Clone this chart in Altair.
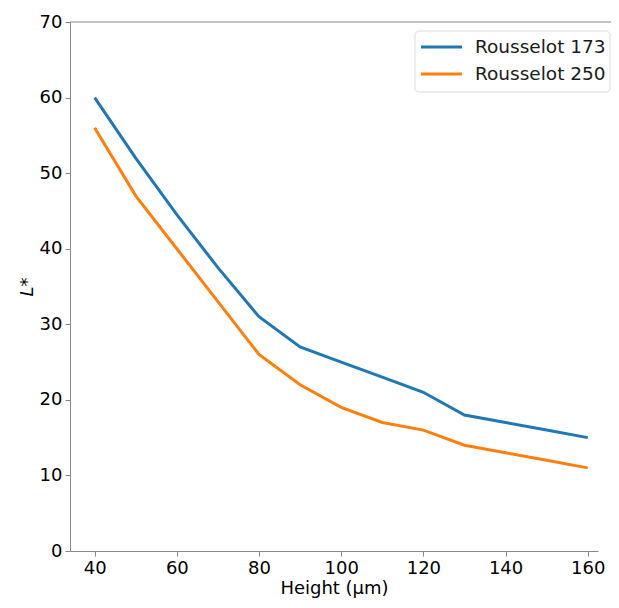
import altair as alt
import pandas as pd

heights = [40, 50, 60, 70, 80, 90, 100, 110, 120, 130, 140, 150, 160]
r173 = [60, 52, 44.5, 37.5, 31, 27, 25, 23, 21, 18, 17, 16, 15]
r250 = [56, 47, 40, 33, 26, 22, 19, 17, 16, 14, 13, 12, 11]
series = ["Rousselot 173", "Rousselot 250"]
colors = ["#1f77b4", "#ff7f0e"]

rows = []
for h, a, b in zip(heights, r173, r250):
    rows.append({"h": h, "L": a, "s": series[0]})
    rows.append({"h": h, "L": b, "s": series[1]})
df = pd.DataFrame(rows)

W, H = 528, 529
font = "DejaVu Sans"

lines = alt.Chart(df).mark_line(strokeWidth=3, clip=True).encode(
    x=alt.X("h:Q", scale=alt.Scale(domain=[34, 162.5], nice=False, zero=False),
            axis=alt.Axis(values=[40, 60, 80, 100, 120, 140, 160], grid=False,
                          title="Height (μm)", titlePadding=2)),
    y=alt.Y("L:Q", scale=alt.Scale(domain=[0, 70], nice=False),
            axis=alt.Axis(values=[0, 10, 20, 30, 40, 50, 60, 70], grid=False,
                          title="L*", titleFontStyle="italic", titlePadding=3)),
    color=alt.Color("s:N", scale=alt.Scale(domain=series, range=colors), legend=None),
)

top = alt.Chart(pd.DataFrame({"a": [0]})).mark_rule(color="#888888", strokeWidth=1).encode(
    x=alt.value(0), x2=alt.value(W + 13), y=alt.value(0)
)

# manual legend (matplotlib-like)
lx0, lx1, ly0, ly1 = 345, 540, 9, 70
row_y = [25, 52]
legend_layers = [
    alt.Chart(pd.DataFrame({"a": [0]})).mark_rect(
        fill="white", stroke="#d9d9d9", strokeWidth=1, cornerRadius=4, opacity=0.9
    ).encode(x=alt.value(lx0), x2=alt.value(lx1), y=alt.value(ly0), y2=alt.value(ly1))
]
for name, col, ry in zip(series, colors, row_y):
    legend_layers.append(
        alt.Chart(pd.DataFrame({"a": [0]})).mark_rule(color=col, strokeWidth=3).encode(
            x=alt.value(351), x2=alt.value(392), y=alt.value(ry)
        )
    )
    legend_layers.append(
        alt.Chart(pd.DataFrame({"t": [name]})).mark_text(
            align="left", baseline="middle", font=font, fontSize=18.5, color="#1a1a1a"
        ).encode(x=alt.value(405), y=alt.value(ry), text="t:N")
    )

chart = alt.layer(top, lines, *legend_layers).properties(
    width=W, height=H,
    autosize=alt.AutoSizeParams(type="none"),
    padding={"left": 62, "top": 14, "right": 13, "bottom": 49},
).configure_view(stroke=None).configure_axis(
    labelFont=font, titleFont=font, labelFontSize=18, titleFontSize=18,
    labelColor="black", titleColor="black", titleFontWeight="normal",
    domainColor="#888888", tickColor="#888888", tickSize=5, labelPadding=3,
)

chart.save("out.html", embed_options={"renderer": "svg", "actions": False})
